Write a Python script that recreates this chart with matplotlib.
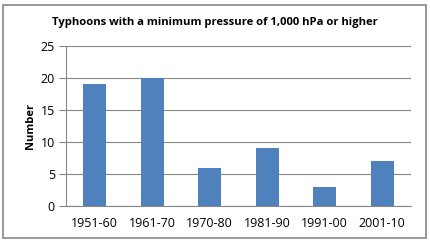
import matplotlib
matplotlib.use("Agg")
import matplotlib.pyplot as plt
from matplotlib.patches import Rectangle

plt.rcParams["font.family"] = ["Open Sans", "DejaVu Sans"]

decades = ["1951-60", "1961-70", "1970-80", "1981-90", "1991-00", "2001-10"]
counts = [19, 20, 6, 9, 3, 7]
yticks = [0, 5, 10, 15, 20, 25]

W, H = 430, 243
fig = plt.figure(figsize=(W / 100, H / 100), dpi=100)
fig.patch.set_facecolor("white")

# outer chart border
fig.patches.append(Rectangle((3 / W, 5 / H), 423 / W, 233 / H, transform=fig.transFigure,
                             fill=False, edgecolor="#868686", lw=1.2))

ax = fig.add_axes([66 / W, 1 - 206 / H, 345 / W, 160 / H])
ax.bar(range(len(decades)), counts, width=0.4, color="#4F81BD", zorder=3)
ax.set_xlim(-0.5, len(decades) - 0.5)
ax.set_ylim(0, 25)
ax.set_yticks(yticks)
ax.set_xticks(range(len(decades)))
ax.set_xticklabels(decades, fontsize=9)
ax.tick_params(axis="y", labelsize=9, length=5, color="#868686", pad=3, direction="out")
ax.tick_params(axis="x", length=0, pad=8)
ax.grid(axis="y", color="#868686", lw=0.8, zorder=0)
for s in ["top", "right"]:
    ax.spines[s].set_visible(False)
for s in ["left", "bottom"]:
    ax.spines[s].set_color("#868686")
    ax.spines[s].set_linewidth(0.8)
ax.set_ylabel("Number", fontsize=8, fontweight="bold", labelpad=3)

fig.text(0.5, 1 - 23 / H, "Typhoons with a minimum pressure of 1,000 hPa or higher",
         ha="center", va="center", fontsize=8.1, fontweight="bold")

fig.savefig("out.png", dpi=100)
